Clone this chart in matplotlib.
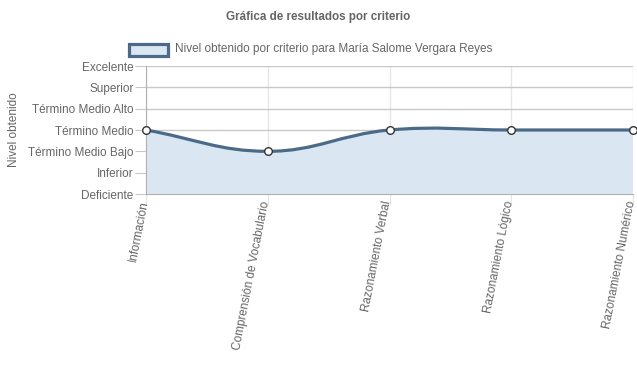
import numpy as np
import matplotlib
matplotlib.use("Agg")
import matplotlib.pyplot as plt
import matplotlib.transforms as mtransforms
from matplotlib.path import Path
from matplotlib.patches import PathPatch, Rectangle

plt.rcParams['font.family'] = ['Liberation Sans', 'DejaVu Sans']

criterios = ['Información', 'Comprensión de Vocabulario', 'Razonamiento Verbal',
             'Razonamiento Lógico', 'Razonamiento Numérico']
niveles = ['Deficiente', 'Inferior', 'Término Medio Bajo', 'Término Medio',
           'Término Medio Alto', 'Superior', 'Excelente']
valores = [4, 3, 4, 4, 4]
serie = 'Nivel obtenido por criterio para María Salome Vergara Reyes'

linea = '#4b6a88'
relleno = '#dae7f3'
texto = '#666666'
fs = 8.5

W, H = 637, 389
fig = plt.figure(figsize=(W / 100, H / 100), dpi=100)
ax = fig.add_axes([146 / W, 195 / H, (633 - 146) / W, (323 - 195) / H])

x = np.arange(len(criterios))
ax.set_xlim(0, len(criterios) - 1)
ax.set_ylim(1, len(niveles))

# curva tipo Chart.js (tension 0.4) calculada en pixeles
pts = ax.transData.transform(np.column_stack([x, valores]))
t = 0.4
verts = [pts[0]]
codes = [Path.MOVETO]
ctrl = []
for i in range(len(pts)):
    prev = pts[i - 1] if i > 0 else pts[i]
    nxt = pts[i + 1] if i < len(pts) - 1 else pts[i]
    d01 = np.hypot(*(pts[i] - prev))
    d12 = np.hypot(*(nxt - pts[i]))
    tot = d01 + d12
    s01 = d01 / tot if tot else 0
    s12 = d12 / tot if tot else 0
    cp_prev = pts[i] - t * s01 * (nxt - prev)
    cp_next = pts[i] + t * s12 * (nxt - prev)
    ctrl.append((cp_prev, cp_next))
for i in range(1, len(pts)):
    verts += [ctrl[i - 1][1], ctrl[i][0], pts[i]]
    codes += [Path.CURVE4] * 3
inv = ax.transData.inverted()
vdata = inv.transform(np.array(verts))

fill_verts = np.vstack([vdata, [[x[-1], 1], [x[0], 1], vdata[0]]])
fill_codes = codes + [Path.LINETO, Path.LINETO, Path.CLOSEPOLY]
ax.add_patch(PathPatch(Path(fill_verts, fill_codes), facecolor=relleno,
                       edgecolor='none', zorder=1))
ax.add_patch(PathPatch(Path(vdata, codes), facecolor='none', edgecolor=linea,
                       lw=2.3, zorder=3, capstyle='round'))
ax.plot(x, valores, 'o', ms=5.5, mfc='white', mec='#333333', mew=1.0,
        zorder=4, clip_on=False)

ax.set_yticks(range(1, len(niveles) + 1))
ax.set_yticklabels(niveles)
ax.set_xticks(x)
ax.set_xticklabels([])
# etiquetas del eje x giradas, un poco a la izquierda de cada marca
desplaza = mtransforms.ScaledTranslation(-3 / 100, -7 / 100, fig.dpi_scale_trans)
trans = ax.get_xaxis_transform() + desplaza
for xi, nombre in zip(x, criterios):
    ax.text(xi, 0, nombre, transform=trans, rotation=79, ha='right',
            va='center_baseline', rotation_mode='anchor', fontsize=fs,
            color=texto, clip_on=False)
ax.tick_params(axis='y', length=8, color='#c8c8c8', labelcolor=texto,
               labelsize=fs, pad=1)
ax.tick_params(axis='x', length=8, color='#e4e4e4')

ax.grid(axis='y', color='#c8c8c8', lw=1)
ax.grid(axis='x', color='#e6e6e6', lw=1)
ax.set_axisbelow(True)
for s in ['top', 'right']:
    ax.spines[s].set_visible(False)
ax.spines['left'].set_color('#b0b0b0')
ax.spines['bottom'].set_color('#b0b0b0')

ax.set_ylabel('Nivel obtenido', color=texto, fontsize=fs)
ax.yaxis.set_label_coords(-126 / (633 - 146), 0.5)

fig.text(0.5, 1 - 17 / H, 'Gráfica de resultados por criterio', ha='center',
         va='center', fontsize=8.4, fontweight='bold', color=texto)
fig.patches.append(Rectangle((129 / W, 1 - 56 / H), 39 / W, 12 / H,
                             transform=fig.transFigure, facecolor=relleno,
                             edgecolor=linea, lw=2.3))
fig.text(175 / W, 1 - 49 / H, serie, ha='left', va='center', fontsize=fs,
         color=texto)

fig.savefig('out.png', dpi=100)
